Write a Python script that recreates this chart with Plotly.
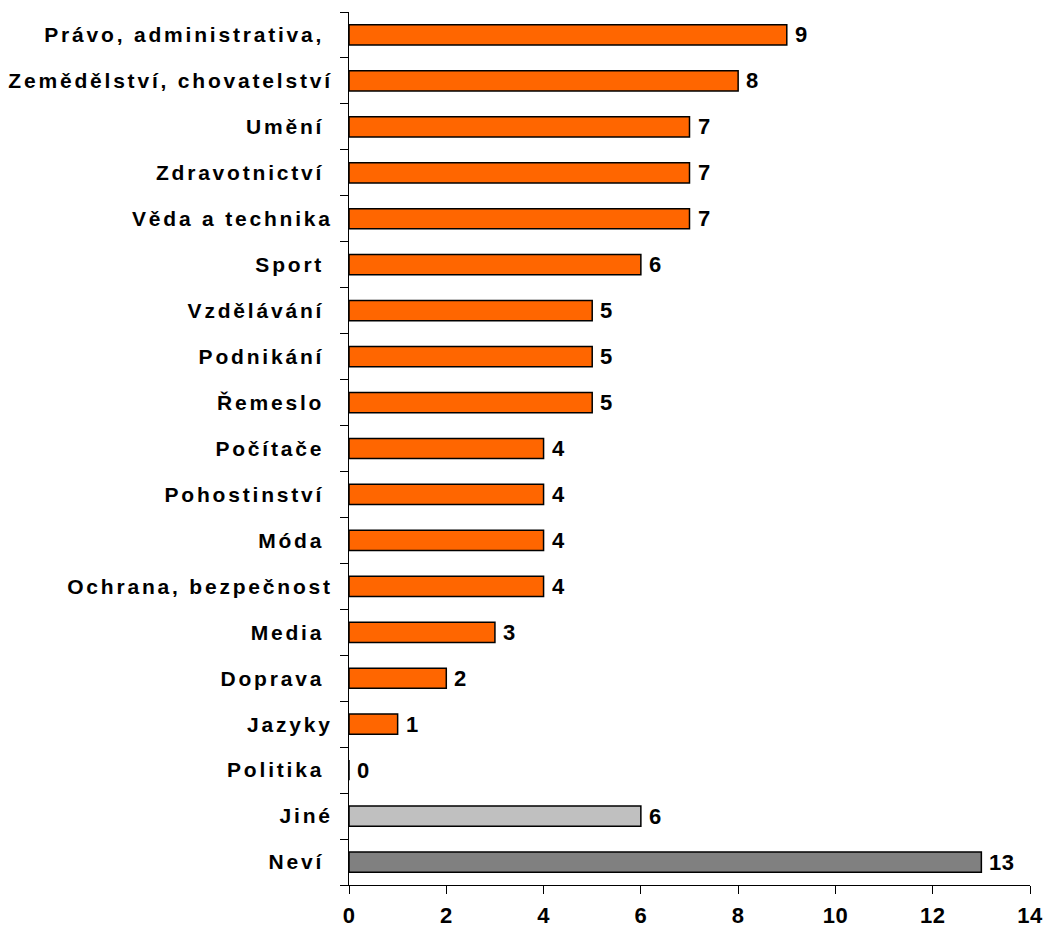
import plotly.graph_objects as go

categories = ["Právo, administrativa, ", "Zemědělství, chovatelství", "Umění ", "Zdravotnictví ",
              "Věda a technika", "Sport ", "Vzdělávání ", "Podnikání ", "Řemeslo ", "Počítače ",
              "Pohostinství ", "Móda ", "Ochrana, bezpečnost", "Media ", "Doprava ", "Jazyky",
              "Politika ", "Jiné", "Neví "]
values = [9, 8, 7, 7, 7, 6, 5, 5, 5, 4, 4, 4, 4, 3, 2, 1, 0, 6, 13]
colors = ["#FF6600"] * 17 + ["#C0C0C0", "#808080"]
x_ticks = [0, 2, 4, 6, 8, 10, 12, 14]

font_family = "Liberation Sans, Arial, sans-serif"


def spaced(s, px):
    return f'<span style="letter-spacing:{px}px">{s}</span>'


fig = go.Figure(go.Bar(
    x=values,
    y=categories,
    orientation="h",
    marker=dict(color=colors, line=dict(color="#000000", width=1.5)),
    cliponaxis=False,
))

for v, c in zip(values, categories):
    fig.add_annotation(
        x=v, y=c, xref="x", yref="y",
        text=spaced(str(v), 0.5),
        showarrow=False, xanchor="left", yanchor="middle",
        xshift=6, yshift=0,
        font=dict(family=font_family, size=22, color="#000000", weight="bold"),
    )

fig.update_layout(
    width=1046, height=930,
    margin=dict(l=349, r=16, t=12, b=45),
    plot_bgcolor="white", paper_bgcolor="white",
    bargap=0.56,
    showlegend=False,
    font=dict(family=font_family, size=18, color="#000000"),
)
fig.update_yaxes(
    autorange="reversed",
    automargin=False,
    tickson="boundaries",
    tickvals=categories,
    ticktext=[spaced(c, 2.8) for c in categories],
    ticks="outside", ticklen=8, tickcolor="#000000",
    showline=True, linecolor="#000000", linewidth=1,
    showgrid=False,
    tickfont=dict(family=font_family, size=21, color="#000000", weight="bold"),
    ticklabelstandoff=11,
)
fig.update_xaxes(
    range=[0, 14],
    automargin=False,
    tickvals=x_ticks,
    ticktext=[spaced(str(t), 0.5) for t in x_ticks],
    ticks="outside", ticklen=8, tickcolor="#000000",
    showline=True, linecolor="#000000", linewidth=1,
    showgrid=False, zeroline=False,
    tickfont=dict(family=font_family, size=22, color="#000000", weight="bold"),
    ticklabelstandoff=3,
)

fig.write_html("out.html", config={"displayModeBar": False},
               post_script="document.body.style.margin='0';document.body.style.overflow='hidden';")
